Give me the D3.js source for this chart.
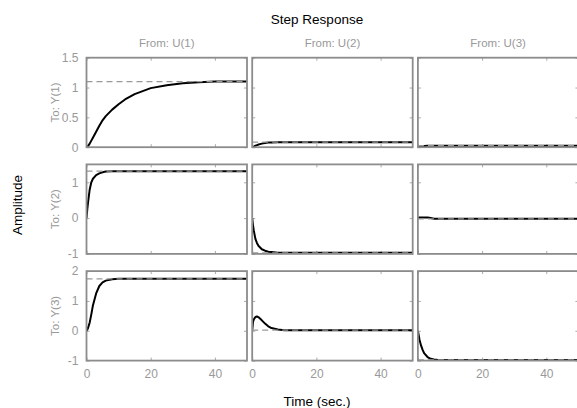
<!DOCTYPE html>
<html>
<head>
<meta charset="utf-8">
<script src="https://cdn.jsdelivr.net/npm/d3@7"></script>
<style>
  body { margin: 0; background: #fff; }
  svg { display: block; font-family: "Liberation Sans", Arial, sans-serif; }
</style>
</head>
<body>
<svg id="chart" width="577" height="408"></svg>
<script>
// time samples shared by every panel (sec.)
const time = [0, 0.25, 0.5, 1, 1.5, 2, 3, 4, 5, 6, 8, 10, 12, 15, 20, 25, 30, 35, 40, 45, 50];

// step responses, row = output Y(i), column = input U(j)
const y11 = [0, 0.01, 0.02, 0.06, 0.11, 0.16, 0.26, 0.36, 0.45, 0.52, 0.63, 0.72, 0.8, 0.89, 0.99, 1.04, 1.07, 1.09, 1.1, 1.1, 1.1];
const y12 = [0, 0.005, 0.01, 0.025, 0.035, 0.045, 0.06, 0.07, 0.077, 0.08, 0.083, 0.085, 0.085, 0.085, 0.085, 0.085, 0.085, 0.085, 0.085, 0.085, 0.085];
const y13 = [0, 0.005, 0.01, 0.015, 0.02, 0.022, 0.025, 0.025, 0.025, 0.025, 0.025, 0.025, 0.025, 0.025, 0.025, 0.025, 0.025, 0.025, 0.025, 0.025, 0.025];
const y21 = [0, 0.25, 0.45, 0.8, 1.0, 1.1, 1.2, 1.25, 1.28, 1.3, 1.31, 1.31, 1.31, 1.31, 1.31, 1.31, 1.31, 1.31, 1.31, 1.31, 1.31];
const y22 = [0, -0.2, -0.35, -0.58, -0.7, -0.78, -0.87, -0.91, -0.94, -0.95, -0.97, -0.97, -0.97, -0.97, -0.97, -0.97, -0.97, -0.97, -0.97, -0.97, -0.97];
const y23 = [0.02, 0.02, 0.02, 0.02, 0.02, 0.02, 0.02, 0.0, -0.02, -0.02, -0.02, -0.02, -0.02, -0.02, -0.02, -0.02, -0.02, -0.02, -0.02, -0.02, -0.02];
const y31 = [0, 0.04, 0.1, 0.28, 0.55, 0.85, 1.25, 1.5, 1.62, 1.68, 1.73, 1.74, 1.74, 1.74, 1.74, 1.74, 1.74, 1.74, 1.74, 1.74, 1.74];
const y32 = [0, 0.3, 0.38, 0.46, 0.48, 0.45, 0.35, 0.24, 0.15, 0.09, 0.04, 0.02, 0.02, 0.02, 0.02, 0.02, 0.02, 0.02, 0.02, 0.02, 0.02];
const y33 = [0, -0.15, -0.3, -0.5, -0.65, -0.76, -0.88, -0.94, -0.96, -0.97, -0.98, -0.98, -0.98, -0.98, -0.98, -0.98, -0.98, -0.98, -0.98, -0.98, -0.98];
const responses = [[y11, y12, y13], [y21, y22, y23], [y31, y32, y33]];

// steady-state levels (dashed)
const finals = [[1.1, 0.085, 0.025], [1.31, -0.97, -0.02], [1.74, 0.02, -0.98]];

// axis limits and ticks
const xDomain = [0, 50];
const xTicks = [0, 20, 40];
const yDomains = [[0, 1.5], [-1, 1.5], [-1, 2]];
const yTicks = [[0, 0.5, 1, 1.5], [-1, 0, 1], [-1, 0, 1, 2]];
const colLabels = ["From: U(1)", "From: U(2)", "From: U(3)"];
const rowLabels = ["To: Y(1)", "To: Y(2)", "To: Y(3)"];

const svg = d3.select("#chart");
const frameColor = "#8c8c8c";
const textGray = "#999";
const plain = d => String(d); // hyphen minus like the original

// ! PANEL GRID
const left0 = 86.5, colStep = 165.7, panelW = 160.5;
const top0 = 57.7, rowStep = 106.7, panelH = 89.5;

const line = d3.line();

for (let r = 0; r < 3; r++) {
  for (let c = 0; c < 3; c++) {
    const px = left0 + c * colStep, py = top0 + r * rowStep;
    const x = d3.scaleLinear().domain(xDomain).range([0, panelW]);
    const y = d3.scaleLinear().domain(yDomains[r]).range([panelH, 0]);
    const g = svg.append("g").attr("transform", `translate(${px},${py})`);

    const clipId = `clip-${r}-${c}`;
    g.append("clipPath").attr("id", clipId)
      .append("rect").attr("width", panelW).attr("height", panelH);

    // inner ticks on all sides
    const bottom = g.append("g").attr("transform", `translate(0,${panelH})`)
      .call(d3.axisBottom(x).tickValues(xTicks).tickSize(-3).tickPadding(9)
        .tickFormat(r === 2 ? plain : ""));
    const top = g.append("g").call(d3.axisTop(x).tickValues(xTicks).tickSize(-3).tickFormat(""));
    const leftAx = g.append("g")
      .call(d3.axisLeft(y).tickValues(yTicks[r]).tickSize(-3).tickPadding(8)
        .tickFormat(c === 0 ? plain : ""));
    const rightAx = g.append("g").attr("transform", `translate(${panelW},0)`)
      .call(d3.axisRight(y).tickValues(yTicks[r]).tickSize(-3).tickFormat(""));

    [bottom, top, leftAx, rightAx].forEach(a => {
      a.select(".domain").remove();
      a.selectAll(".tick line").attr("stroke", "#aaa").attr("stroke-width", 1);
      a.selectAll(".tick text").attr("fill", textGray).attr("font-size", 12)
        .attr("font-family", "Liberation Sans, Arial, sans-serif");
    });
    if (c !== 0) leftAx.selectAll(".tick text").remove();
    if (r !== 2) bottom.selectAll(".tick text").remove();

    const plot = g.append("g").attr("clip-path", `url(#${clipId})`);
    const pts = time.map((t, i) => [x(t), y(responses[r][c][i])]);
    plot.append("path").attr("d", line(pts))
      .attr("fill", "none").attr("stroke", "#000").attr("stroke-width", 2)
      .attr("stroke-linejoin", "round");
    plot.append("line")
      .attr("x1", 0).attr("x2", panelW)
      .attr("y1", y(finals[r][c])).attr("y2", y(finals[r][c]))
      .attr("stroke", "#999").attr("stroke-width", 1.3)
      .attr("stroke-dasharray", "6,4");

    g.append("rect").attr("width", panelW).attr("height", panelH)
      .attr("fill", "none").attr("stroke", frameColor).attr("stroke-width", 1.8);

    if (r === 0) {
      svg.append("text").attr("x", px + panelW / 2).attr("y", 47)
        .attr("text-anchor", "middle").attr("font-size", 11.5).attr("fill", textGray)
        .text(colLabels[c]);
    }
    if (c === 0) {
      svg.append("text")
        .attr("transform", `translate(59,${py + panelH / 2}) rotate(-90)`)
        .attr("text-anchor", "middle").attr("font-size", 11.5).attr("fill", textGray)
        .text(rowLabels[r]);
    }
  }
}

// ! FIGURE TITLES
svg.append("text").attr("x", 317).attr("y", 24).attr("text-anchor", "middle")
  .attr("font-size", 13.5).attr("fill", "#000").text("Step Response");
svg.append("text").attr("x", 317).attr("y", 406).attr("text-anchor", "middle")
  .attr("font-size", 13.5).attr("fill", "#000").text("Time (sec.)");
svg.append("text").attr("transform", "translate(22,205) rotate(-90)")
  .attr("text-anchor", "middle").attr("font-size", 13.5).attr("fill", "#000").text("Amplitude");
</script>
</body>
</html>
